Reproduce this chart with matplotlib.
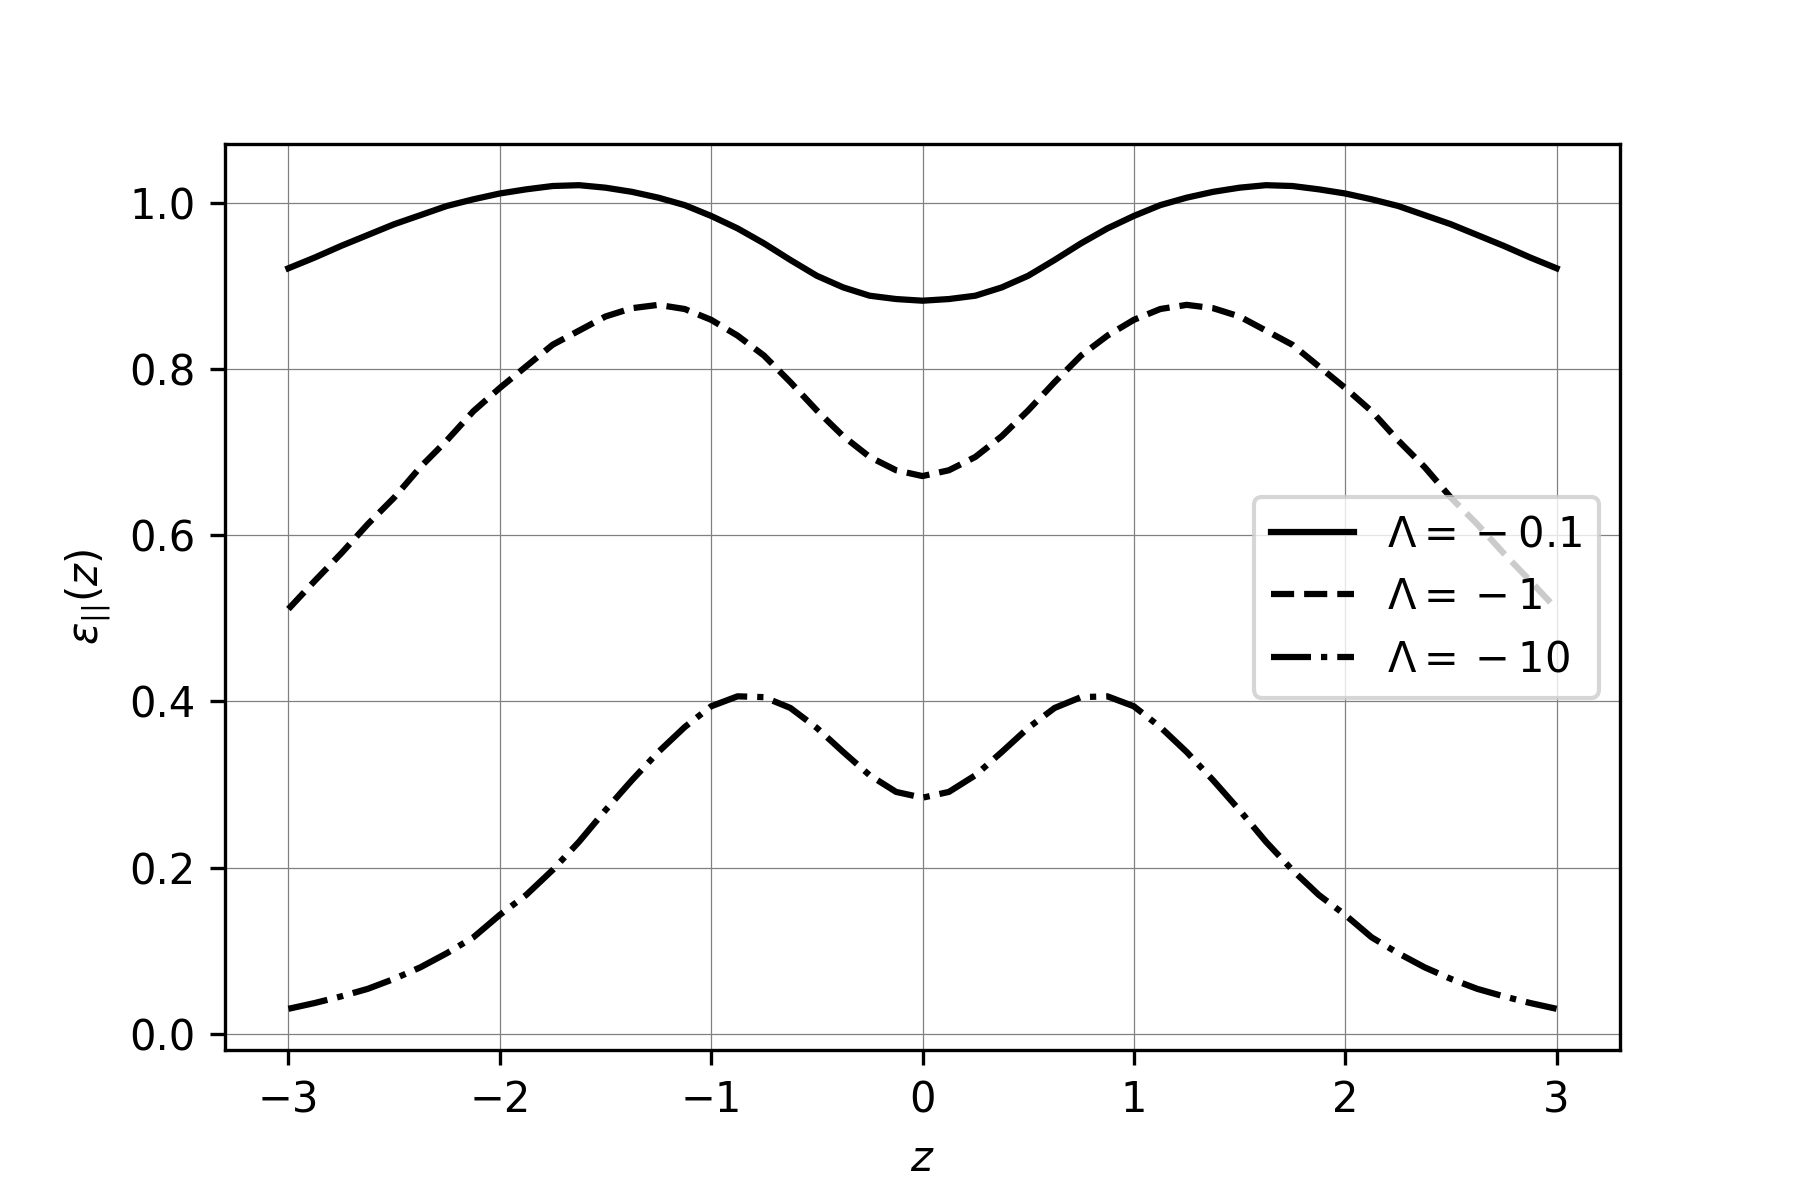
import matplotlib
matplotlib.use("Agg")
import matplotlib.pyplot as plt

# ── values (curves are symmetric about z=0) ──────────────────────────────────
z = [-3.0, -2.875, -2.75, -2.625, -2.5, -2.375, -2.25, -2.125, -2.0,
     -1.875, -1.75, -1.625, -1.5, -1.375, -1.25, -1.125, -1.0,
     -0.875, -0.75, -0.625, -0.5, -0.375, -0.25, -0.125, 0.0,
     0.125, 0.25, 0.375, 0.5, 0.625, 0.75, 0.875, 1.0,
     1.125, 1.25, 1.375, 1.5, 1.625, 1.75, 1.875, 2.0,
     2.125, 2.25, 2.375, 2.5, 2.625, 2.75, 2.875, 3.0]

eps_small = [0.921, 0.934, 0.948, 0.961, 0.974, 0.985, 0.996, 1.004, 1.011,
             1.016, 1.020, 1.021, 1.018, 1.013, 1.006, 0.997, 0.984,
             0.969, 0.951, 0.931, 0.912, 0.898, 0.888, 0.884, 0.882,
             0.884, 0.888, 0.898, 0.912, 0.931, 0.951, 0.969, 0.984,
             0.997, 1.006, 1.013, 1.018, 1.021, 1.020, 1.016, 1.011,
             1.004, 0.996, 0.985, 0.974, 0.961, 0.948, 0.934, 0.921]

eps_mid = [0.511, 0.545, 0.578, 0.613, 0.645, 0.682, 0.714, 0.749, 0.777,
           0.803, 0.829, 0.846, 0.863, 0.873, 0.877, 0.872, 0.859,
           0.840, 0.816, 0.784, 0.750, 0.719, 0.694, 0.678, 0.671,
           0.678, 0.694, 0.719, 0.750, 0.784, 0.816, 0.840, 0.859,
           0.872, 0.877, 0.873, 0.863, 0.846, 0.829, 0.803, 0.777,
           0.749, 0.714, 0.682, 0.645, 0.613, 0.578, 0.545, 0.511]

eps_large = [0.030, 0.037, 0.045, 0.054, 0.066, 0.080, 0.097, 0.116, 0.143,
             0.167, 0.197, 0.231, 0.269, 0.305, 0.339, 0.369, 0.394,
             0.406, 0.405, 0.392, 0.368, 0.339, 0.311, 0.291, 0.284,
             0.291, 0.311, 0.339, 0.368, 0.392, 0.405, 0.406, 0.394,
             0.369, 0.339, 0.305, 0.269, 0.231, 0.197, 0.167, 0.143,
             0.116, 0.097, 0.080, 0.066, 0.054, 0.045, 0.037, 0.030]

# "{}-" keeps mathtext spacing the minus like a binary operator
labels = [r"$\Lambda = {}-0.1$", r"$\Lambda = {}-1$", r"$\Lambda = {}-10$"]

fig, ax = plt.subplots(figsize=(6, 4), dpi=300)
fig.subplots_adjust(left=0.125, right=0.9, top=0.88, bottom=0.125)

ax.plot(z, eps_small, color="black", ls="-", label=labels[0])
ax.plot(z, eps_mid, color="black", ls="--", label=labels[1])
ax.plot(z, eps_large, color="black", ls="-.", label=labels[2])

ax.grid(True, color="gray", linewidth=0.3)
ax.set_xlabel(r"$z$")
ax.set_ylabel(r"$\varepsilon_{||}(z)$")
ax.legend(loc="center right")

fig.savefig("out.png", dpi=300)
